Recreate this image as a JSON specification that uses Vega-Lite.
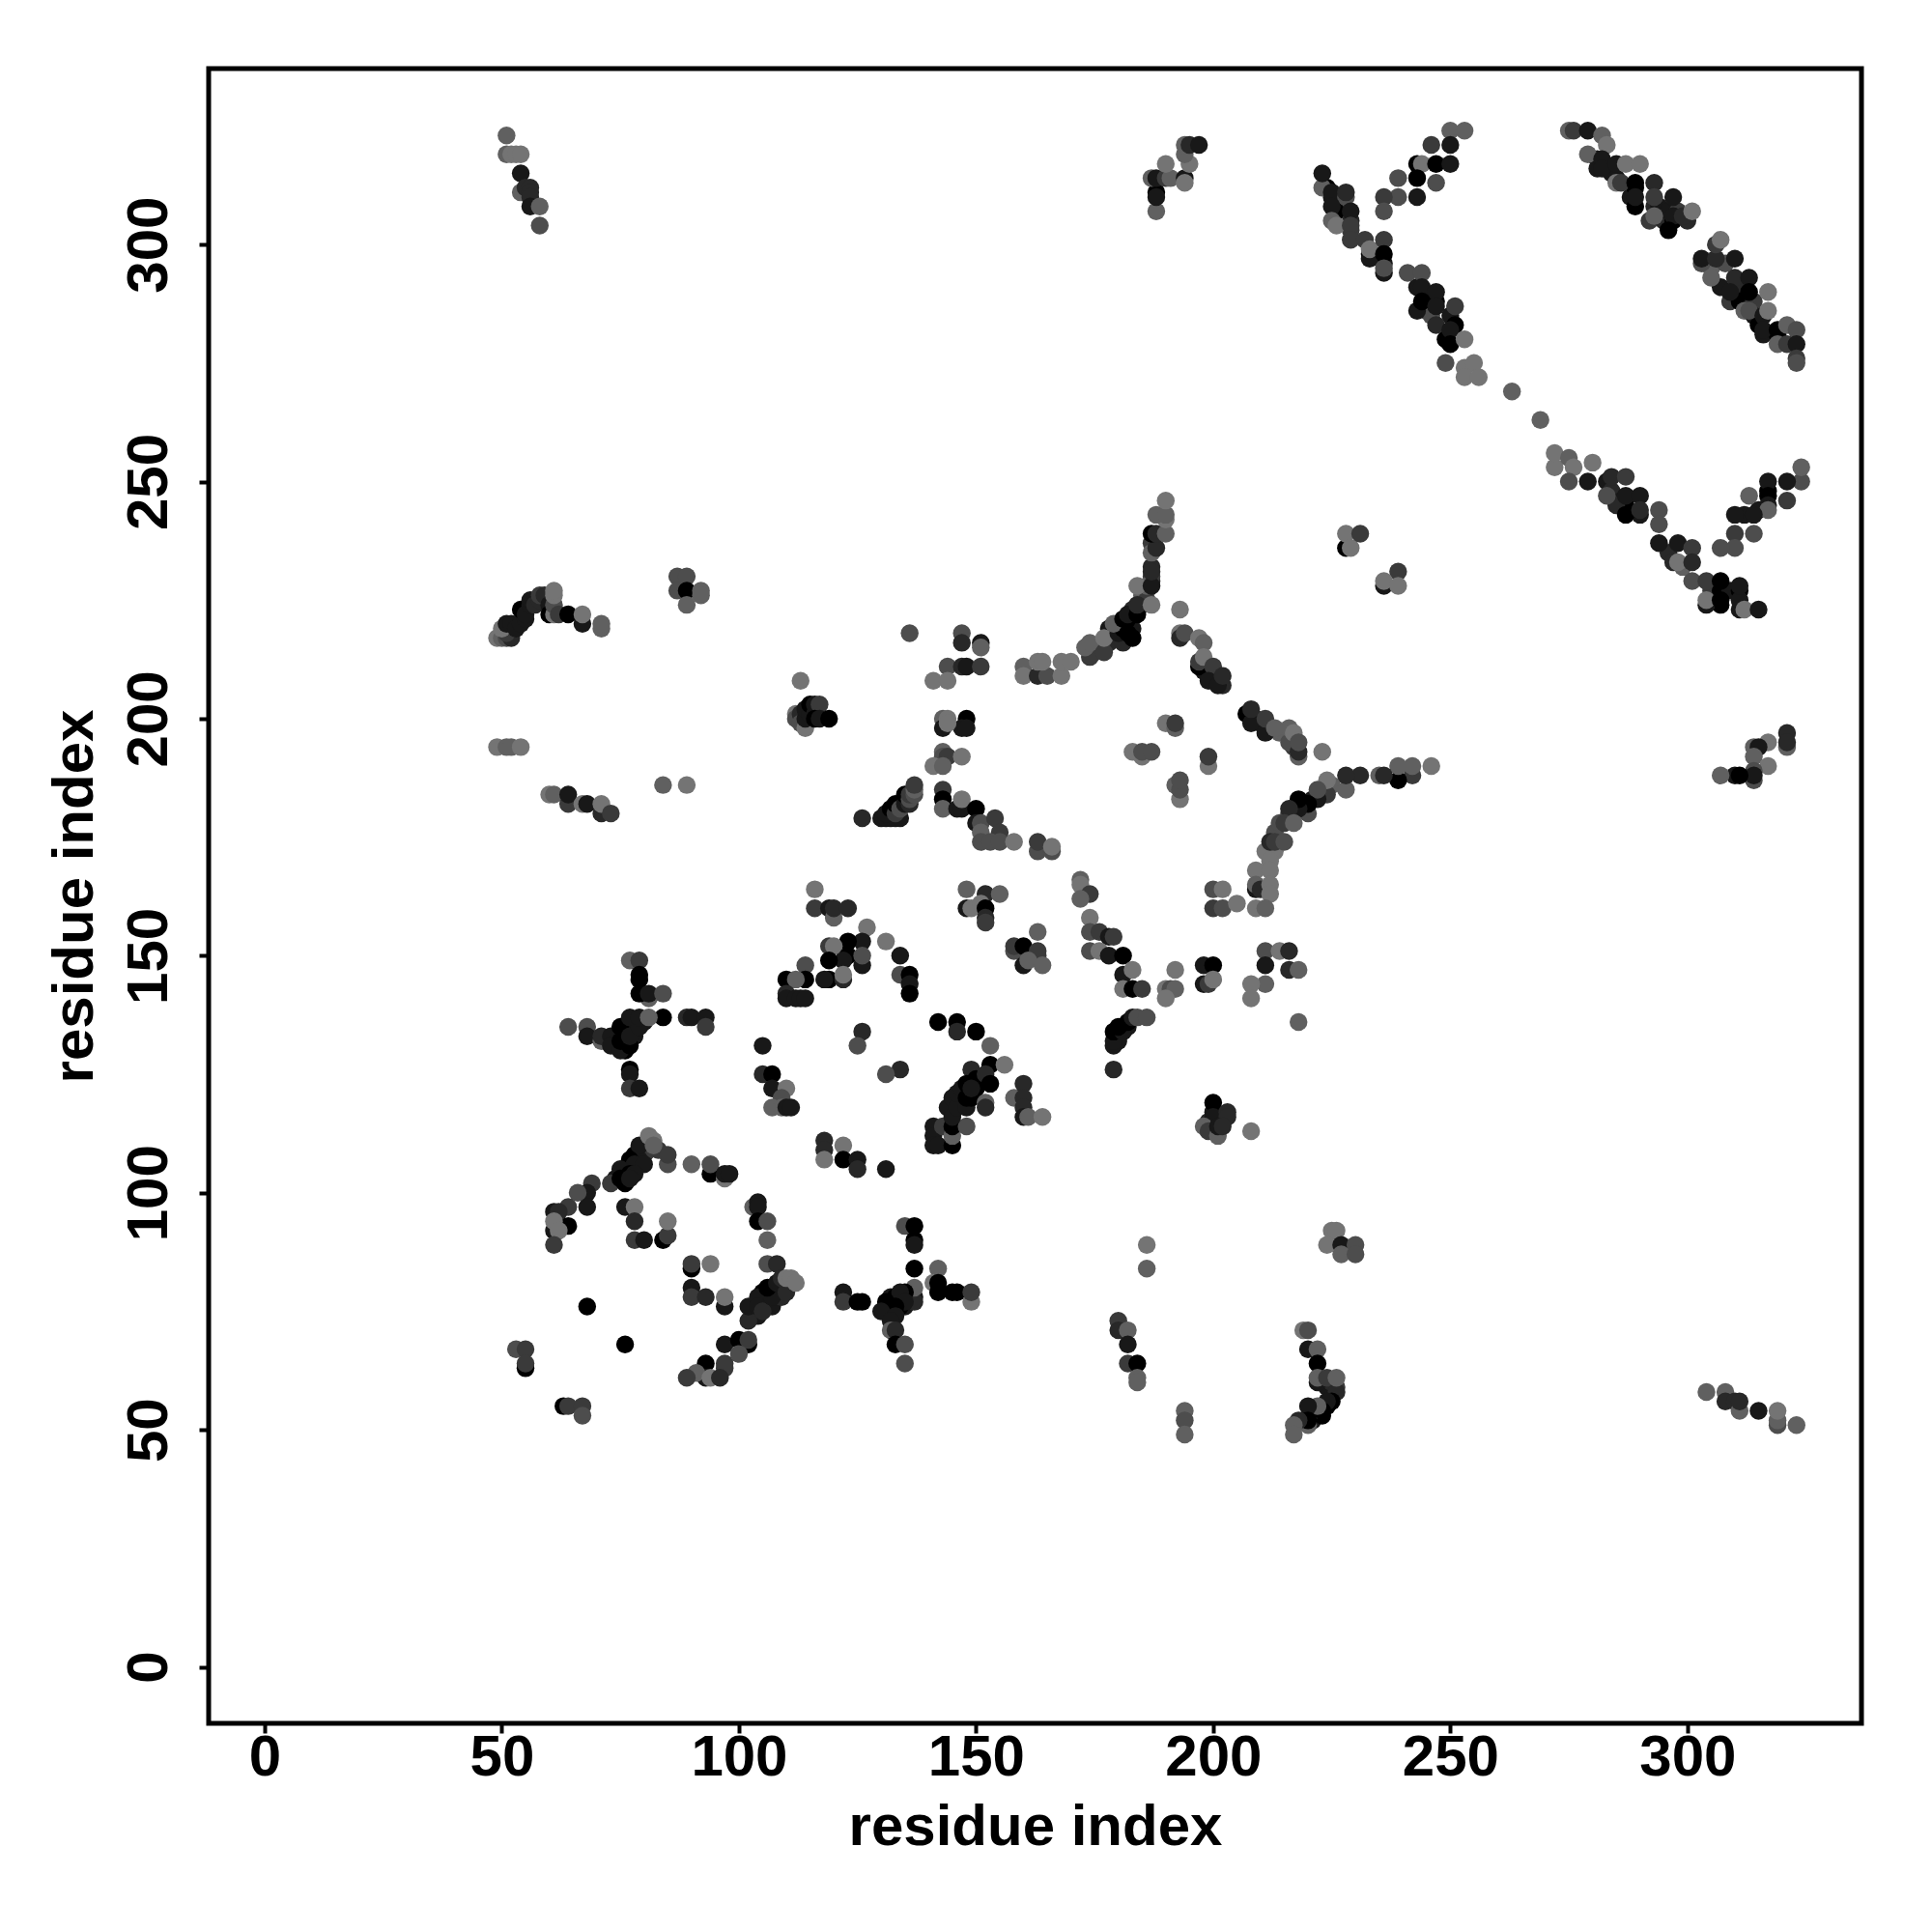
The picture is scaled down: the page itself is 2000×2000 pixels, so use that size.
{"$schema":"https://vega.github.io/schema/vega-lite/v6.json","autosize":"none","padding":{"left":216,"top":71,"right":73,"bottom":216},"width":1711,"height":1713,"background":"white","view":{"stroke":"black","strokeWidth":5,"fill":"white"},"data":{"values":[
{"i":281,"j":318,"p":1},{"i":281,"j":316,"p":1},{"i":283,"j":316,"p":1},{"i":284,"j":315,"p":1},{"i":285,"j":314,"p":1},{"i":285,"j":313,"p":6},{"i":288,"j":310,"p":1},{"i":289,"j":308,"p":0},{"i":289,"j":312,"p":0},{"i":293,"j":308,"p":2},{"i":294,"j":308,"p":1},{"i":292,"j":305,"p":3},{"i":295,"j":305,"p":2},{"i":297,"j":305,"p":0},{"i":296,"j":307,"p":1},{"i":298,"j":307,"p":3},{"i":300,"j":305,"p":2},
{"i":305,"j":295,"p":5},{"i":308,"j":296,"p":4},{"i":307,"j":291,"p":1},{"i":309,"j":288,"p":3},{"i":311,"j":291,"p":2},{"i":311,"j":288,"p":0},{"i":314,"j":288,"p":3},{"i":312,"j":286,"p":5},{"i":314,"j":285,"p":1},{"i":315,"j":283,"p":0},{"i":316,"j":281,"p":1},{"i":319,"j":281,"p":0},{"i":303,"j":296,"p":4},
{"i":224,"j":312,"p":0},{"i":225,"j":310,"p":1},{"i":226,"j":307,"p":0},{"i":229,"j":305,"p":2},{"i":229,"j":303,"p":3},{"i":233,"j":298,"p":0},{"i":236,"j":296,"p":1},{"i":243,"j":291,"p":1},{"i":245,"j":289,"p":1},{"i":247,"j":288,"p":0},{"i":245,"j":286,"p":2},{"i":246,"j":285,"p":4},{"i":250,"j":285,"p":1},{"i":249,"j":280,"p":0},
{"i":283,"j":250,"p":1},{"i":284,"j":248,"p":2},{"i":286,"j":246,"p":1},{"i":287,"j":245,"p":0},{"i":290,"j":243,"p":1},{"i":285,"j":245,"p":2},{"i":305,"j":227,"p":3},{"i":307,"j":227,"p":0},{"i":309,"j":227,"p":1},{"i":311,"j":227,"p":0},{"i":307,"j":224,"p":0},{"i":304,"j":224,"p":1},{"i":296,"j":235,"p":2},{"i":299,"j":232,"p":5},{"i":317,"j":248,"p":0},{"i":315,"j":244,"p":1},{"i":312,"j":243,"p":1},
{"i":178,"j":219,"p":1},{"i":179,"j":218,"p":0},{"i":180,"j":219,"p":0},{"i":181,"j":220,"p":0},{"i":182,"j":220,"p":0},{"i":183,"j":219,"p":1},{"i":183,"j":223,"p":2},{"i":185,"j":226,"p":5},{"i":186,"j":227,"p":5},{"i":185,"j":224,"p":2},{"i":186,"j":225,"p":3},{"i":187,"j":229,"p":2},{"i":187,"j":230,"p":3},{"i":187,"j":232,"p":2},{"i":187,"j":237,"p":3},{"i":186,"j":228,"p":5},{"i":175,"j":215,"p":3},{"i":176,"j":215,"p":3},{"i":178,"j":216,"p":2},{"i":175,"j":214,"p":4},
{"i":219,"j":181,"p":0},{"i":221,"j":183,"p":1},{"i":219,"j":182,"p":0},{"i":223,"j":185,"p":3},{"i":225,"j":186,"p":5},{"i":217,"j":181,"p":0},{"i":216,"j":180,"p":3},{"i":213,"j":176,"p":4},{"i":213,"j":172,"p":6},{"i":211,"j":172,"p":6},
{"i":198,"j":210,"p":1},{"i":200,"j":209,"p":0},{"i":201,"j":208,"p":1},{"i":202,"j":207,"p":2},{"i":200,"j":208,"p":1},{"i":209,"j":200,"p":1},{"i":210,"j":199,"p":1},{"i":212,"j":198,"p":2},{"i":214,"j":197,"p":5},{"i":215,"j":197,"p":5},{"i":217,"j":194,"p":3},
{"i":76,"j":103,"p":0},{"i":74,"j":103,"p":1},{"i":79,"j":108,"p":1},{"i":78,"j":108,"p":0},{"i":80,"j":108,"p":2},{"i":81,"j":109,"p":3},{"i":83,"j":109,"p":3},{"i":79,"j":107,"p":1},{"i":76,"j":105,"p":1},{"i":77,"j":105,"p":1},{"i":103,"j":75,"p":1},{"i":104,"j":74,"p":1},{"i":103,"j":76,"p":1},{"i":105,"j":77,"p":1},{"i":106,"j":77,"p":1},{"i":107,"j":76,"p":1},{"i":108,"j":79,"p":1},{"i":109,"j":78,"p":2},{"i":109,"j":80,"p":1},{"i":106,"j":78,"p":1},{"i":107,"j":80,"p":2},{"i":105,"j":79,"p":0},
{"i":76,"j":132,"p":0},{"i":76,"j":134,"p":0},{"i":78,"j":135,"p":1},{"i":78,"j":133,"p":1},{"i":80,"j":136,"p":1},{"i":76,"j":130,"p":0},{"i":131,"j":76,"p":0},{"i":131,"j":75,"p":1},{"i":132,"j":78,"p":1},{"i":133,"j":78,"p":0},{"i":134,"j":77,"p":1},{"i":135,"j":76,"p":1},{"i":136,"j":79,"p":1},{"i":136,"j":78,"p":0},{"i":137,"j":78,"p":1},{"i":137,"j":77,"p":2},{"i":133,"j":75,"p":1},{"i":134,"j":76,"p":0},
{"i":221,"j":52,"p":1},{"i":222,"j":53,"p":1},{"i":223,"j":53,"p":0},{"i":224,"j":55,"p":0},{"i":225,"j":57,"p":0},{"i":226,"j":59,"p":3},{"i":219,"j":52,"p":1},{"i":221,"j":54,"p":3},{"i":224,"j":59,"p":1},{"i":225,"j":60,"p":2},{"i":200,"j":114,"p":1},{"i":201,"j":115,"p":1},{"i":202,"j":115,"p":2},{"i":199,"j":115,"p":2},{"i":200,"j":117,"p":1},{"i":180,"j":133,"p":0},{"i":181,"j":135,"p":1},{"i":182,"j":135,"p":1},{"i":180,"j":132,"p":1},
{"i":51,"j":323,"p":5},{"i":51,"j":319,"p":5},{"i":52,"j":319,"p":6},{"i":53,"j":319,"p":6},{"i":54,"j":319,"p":6},{"i":54,"j":315,"p":1},{"i":54,"j":311,"p":5},{"i":55,"j":312,"p":2},{"i":56,"j":312,"p":2},{"i":56,"j":311,"p":2},{"i":56,"j":310,"p":2},{"i":56,"j":308,"p":1},{"i":58,"j":308,"p":5},{"i":58,"j":304,"p":4},
{"i":49,"j":217,"p":6},{"i":50,"j":217,"p":5},{"i":51,"j":217,"p":4},{"i":52,"j":217,"p":2},{"i":51,"j":218,"p":3},{"i":50,"j":219,"p":6},{"i":51,"j":220,"p":1},{"i":52,"j":220,"p":1},{"i":53,"j":219,"p":1},{"i":54,"j":220,"p":1},{"i":55,"j":221,"p":1},{"i":54,"j":223,"p":0},{"i":55,"j":222,"p":1},{"i":56,"j":224,"p":1},{"i":56,"j":225,"p":1},{"i":57,"j":224,"p":2},{"i":58,"j":225,"p":2},{"i":58,"j":226,"p":3},{"i":59,"j":226,"p":2},{"i":60,"j":224,"p":1},{"i":60,"j":222,"p":0},{"i":61,"j":222,"p":6},{"i":61,"j":224,"p":4},{"i":61,"j":226,"p":6},{"i":61,"j":227,"p":6},{"i":62,"j":222,"p":3},{"i":64,"j":222,"p":0},{"i":67,"j":220,"p":1},{"i":67,"j":222,"p":6},{"i":71,"j":219,"p":5},{"i":71,"j":220,"p":5},
{"i":87,"j":230,"p":4},{"i":89,"j":230,"p":4},{"i":87,"j":227,"p":4},{"i":89,"j":227,"p":0},{"i":92,"j":227,"p":5},{"i":92,"j":226,"p":5},{"i":89,"j":224,"p":5},
{"i":49,"j":194,"p":6},{"i":51,"j":194,"p":5},{"i":52,"j":194,"p":5},{"i":54,"j":194,"p":6},
{"i":60,"j":184,"p":6},{"i":61,"j":184,"p":5},{"i":64,"j":182,"p":3},{"i":64,"j":184,"p":1},{"i":67,"j":182,"p":6},{"i":68,"j":182,"p":1},{"i":71,"j":180,"p":2},{"i":71,"j":182,"p":6},{"i":73,"j":180,"p":3},
{"i":84,"j":186,"p":5},{"i":89,"j":186,"p":6},
{"i":113,"j":208,"p":6},{"i":112,"j":201,"p":6},{"i":112,"j":200,"p":4},{"i":113,"j":201,"p":2},{"i":113,"j":199,"p":4},{"i":114,"j":198,"p":6},{"i":114,"j":200,"p":1},{"i":114,"j":202,"p":1},{"i":115,"j":201,"p":1},{"i":115,"j":203,"p":0},{"i":116,"j":203,"p":1},{"i":116,"j":201,"p":1},{"i":117,"j":203,"p":3},{"i":116,"j":200,"p":0},{"i":117,"j":200,"p":1},{"i":119,"j":200,"p":0},
{"i":126,"j":179,"p":2},{"i":130,"j":179,"p":1},{"i":131,"j":179,"p":1},{"i":132,"j":179,"p":1},{"i":133,"j":179,"p":1},{"i":134,"j":179,"p":1},{"i":131,"j":180,"p":1},{"i":132,"j":181,"p":0},{"i":133,"j":180,"p":3},{"i":133,"j":182,"p":0},{"i":134,"j":181,"p":4},{"i":135,"j":182,"p":1},{"i":135,"j":184,"p":0},{"i":136,"j":182,"p":2},{"i":136,"j":183,"p":4},{"i":136,"j":184,"p":3},{"i":137,"j":184,"p":4},{"i":137,"j":185,"p":5},{"i":137,"j":186,"p":3},
{"i":136,"j":218,"p":4},{"i":147,"j":218,"p":4},{"i":147,"j":216,"p":2},{"i":151,"j":216,"p":1},{"i":151,"j":215,"p":5},{"i":144,"j":211,"p":4},{"i":147,"j":211,"p":2},{"i":148,"j":211,"p":1},{"i":151,"j":211,"p":3},{"i":141,"j":208,"p":6},{"i":144,"j":208,"p":6},
{"i":143,"j":200,"p":5},{"i":143,"j":198,"p":1},{"i":148,"j":200,"p":0},{"i":147,"j":198,"p":1},{"i":148,"j":198,"p":1},{"i":144,"j":200,"p":6},{"i":144,"j":199,"p":6},
{"i":143,"j":193,"p":5},{"i":143,"j":192,"p":4},{"i":144,"j":192,"p":3},{"i":147,"j":192,"p":6},{"i":141,"j":190,"p":6},{"i":143,"j":190,"p":5},
{"i":143,"j":185,"p":3},{"i":143,"j":183,"p":0},{"i":143,"j":181,"p":5},{"i":146,"j":181,"p":1},{"i":147,"j":181,"p":1},{"i":147,"j":183,"p":6},{"i":150,"j":181,"p":0},{"i":150,"j":178,"p":1},{"i":151,"j":178,"p":4},{"i":154,"j":179,"p":3},{"i":151,"j":176,"p":5},{"i":155,"j":176,"p":3},{"i":151,"j":174,"p":4},{"i":153,"j":174,"p":4},{"i":155,"j":174,"p":4},{"i":158,"j":174,"p":6},{"i":163,"j":172,"p":4},{"i":163,"j":174,"p":3},{"i":166,"j":172,"p":4},{"i":166,"j":173,"p":6},
{"i":160,"j":211,"p":5},{"i":160,"j":209,"p":6},{"i":163,"j":209,"p":2},{"i":165,"j":209,"p":4},{"i":163,"j":212,"p":6},{"i":164,"j":212,"p":6},{"i":168,"j":209,"p":6},{"i":168,"j":212,"p":6},{"i":170,"j":212,"p":6},{"i":174,"j":213,"p":3},{"i":173,"j":215,"p":5},{"i":174,"j":216,"p":5},{"i":177,"j":214,"p":3},{"i":177,"j":217,"p":6},{"i":181,"j":216,"p":2},{"i":180,"j":218,"p":1},{"i":183,"j":217,"p":0},{"i":181,"j":219,"p":0},{"i":179,"j":220,"p":5},{"i":181,"j":221,"p":0},{"i":182,"j":218,"p":0},{"i":182,"j":221,"p":0},{"i":182,"j":222,"p":1},{"i":184,"j":222,"p":0},{"i":184,"j":224,"p":2},{"i":187,"j":224,"p":6},{"i":184,"j":228,"p":6},{"i":187,"j":228,"p":1},{"i":187,"j":231,"p":2},{"i":187,"j":235,"p":5},{"i":188,"j":236,"p":2},{"i":187,"j":239,"p":0},{"i":188,"j":239,"p":2},{"i":190,"j":239,"p":5},{"i":190,"j":242,"p":6},{"i":188,"j":243,"p":5},{"i":190,"j":243,"p":5},{"i":190,"j":246,"p":6},
{"i":193,"j":223,"p":6},{"i":193,"j":218,"p":6},{"i":193,"j":217,"p":2},{"i":194,"j":218,"p":4},{"i":197,"j":217,"p":6},{"i":198,"j":216,"p":5},{"i":197,"j":211,"p":0},{"i":197,"j":212,"p":3},{"i":198,"j":213,"p":6},{"i":200,"j":211,"p":3},{"i":199,"j":208,"p":1},{"i":201,"j":207,"p":1},{"i":202,"j":209,"p":2},
{"i":207,"j":201,"p":0},{"i":208,"j":199,"p":1},{"i":208,"j":202,"p":2},{"i":211,"j":197,"p":1},{"i":211,"j":200,"p":3},{"i":213,"j":198,"p":5},{"i":216,"j":195,"p":4},{"i":216,"j":198,"p":5},{"i":217,"j":197,"p":6},{"i":218,"j":192,"p":5},{"i":218,"j":193,"p":2},{"i":218,"j":195,"p":4},{"i":223,"j":193,"p":6},
{"i":190,"j":199,"p":6},{"i":192,"j":198,"p":5},{"i":192,"j":199,"p":3},{"i":183,"j":193,"p":6},{"i":185,"j":192,"p":6},{"i":185,"j":193,"p":4},{"i":187,"j":193,"p":4},{"i":199,"j":190,"p":6},{"i":199,"j":192,"p":3},{"i":192,"j":186,"p":5},{"i":193,"j":183,"p":6},{"i":193,"j":185,"p":4},{"i":193,"j":187,"p":4},
{"i":246,"j":190,"p":6},{"i":242,"j":188,"p":3},{"i":242,"j":190,"p":5},{"i":239,"j":187,"p":0},{"i":239,"j":190,"p":5},{"i":235,"j":188,"p":5},{"i":236,"j":188,"p":2},{"i":231,"j":188,"p":2},{"i":228,"j":185,"p":5},{"i":228,"j":188,"p":2},{"i":224,"j":184,"p":3},{"i":224,"j":187,"p":6},{"i":222,"j":183,"p":1},{"i":222,"j":185,"p":4},{"i":220,"j":180,"p":4},{"i":220,"j":182,"p":0},{"i":218,"j":181,"p":1},{"i":218,"j":183,"p":0},{"i":216,"j":181,"p":2},{"i":214,"j":178,"p":4},{"i":215,"j":178,"p":3},{"i":217,"j":178,"p":5},{"i":212,"j":174,"p":2},{"i":213,"j":174,"p":3},{"i":215,"j":174,"p":4},{"i":212,"j":170,"p":6},{"i":209,"j":168,"p":6},{"i":212,"j":168,"p":6},{"i":209,"j":164,"p":1},{"i":209,"j":165,"p":5},{"i":210,"j":164,"p":2},{"i":212,"j":165,"p":6},{"i":212,"j":163,"p":6},
{"i":200,"j":164,"p":4},{"i":202,"j":164,"p":6},{"i":200,"j":160,"p":3},{"i":202,"j":160,"p":4},{"i":205,"j":161,"p":6},{"i":209,"j":160,"p":6},{"i":211,"j":160,"p":5},
{"i":148,"j":164,"p":5},{"i":152,"j":163,"p":2},{"i":155,"j":163,"p":5},{"i":148,"j":160,"p":1},{"i":149,"j":160,"p":6},{"i":151,"j":161,"p":6},{"i":152,"j":160,"p":0},{"i":152,"j":158,"p":2},{"i":152,"j":157,"p":3},
{"i":172,"j":166,"p":5},{"i":172,"j":165,"p":6},{"i":174,"j":163,"p":3},{"i":172,"j":162,"p":5},
{"i":174,"j":158,"p":6},{"i":174,"j":155,"p":4},{"i":176,"j":155,"p":3},{"i":178,"j":154,"p":1},{"i":179,"j":154,"p":3},{"i":174,"j":151,"p":4},{"i":176,"j":151,"p":6},{"i":178,"j":150,"p":1},{"i":181,"j":150,"p":0},{"i":181,"j":146,"p":1},{"i":183,"j":147,"p":6},{"i":181,"j":143,"p":6},{"i":183,"j":143,"p":0},{"i":185,"j":143,"p":3},
{"i":163,"j":155,"p":5},{"i":158,"j":151,"p":4},{"i":158,"j":152,"p":3},{"i":160,"j":152,"p":0},{"i":163,"j":150,"p":3},{"i":163,"j":151,"p":3},{"i":160,"j":148,"p":1},{"i":161,"j":149,"p":5},{"i":164,"j":148,"p":5},
{"i":192,"j":147,"p":6},{"i":190,"j":143,"p":6},{"i":191,"j":143,"p":4},{"i":192,"j":143,"p":5},{"i":190,"j":141,"p":6},
{"i":198,"j":144,"p":1},{"i":198,"j":148,"p":1},{"i":200,"j":148,"p":0},{"i":199,"j":144,"p":3},{"i":200,"j":145,"p":6},
{"i":211,"j":151,"p":4},{"i":211,"j":148,"p":1},{"i":211,"j":144,"p":5},{"i":208,"j":144,"p":6},{"i":208,"j":141,"p":6},{"i":214,"j":151,"p":6},{"i":216,"j":151,"p":2},{"i":216,"j":147,"p":2},{"i":218,"j":147,"p":5},{"i":218,"j":136,"p":5},
{"i":179,"j":131,"p":1},{"i":179,"j":132,"p":1},{"i":179,"j":134,"p":0},{"i":181,"j":134,"p":1},{"i":180,"j":135,"p":0},{"i":182,"j":136,"p":0},{"i":183,"j":137,"p":1},{"i":184,"j":137,"p":4},{"i":186,"j":137,"p":4},{"i":179,"j":126,"p":2},
{"i":142,"j":136,"p":0},{"i":146,"j":136,"p":0},{"i":146,"j":134,"p":2},{"i":150,"j":134,"p":0},{"i":153,"j":131,"p":5},{"i":153,"j":127,"p":0},{"i":149,"j":126,"p":2},{"i":156,"j":127,"p":6},
{"i":116,"j":164,"p":6},{"i":116,"j":160,"p":3},{"i":119,"j":160,"p":1},{"i":120,"j":158,"p":5},{"i":120,"j":160,"p":2},{"i":123,"j":160,"p":2},
{"i":127,"j":156,"p":6},{"i":131,"j":153,"p":6},{"i":126,"j":153,"p":1},{"i":123,"j":153,"p":0},{"i":119,"j":152,"p":3},{"i":120,"j":152,"p":6},{"i":123,"j":150,"p":0},{"i":122,"j":149,"p":1},{"i":119,"j":149,"p":0},{"i":126,"j":148,"p":1},{"i":126,"j":150,"p":4},{"i":119,"j":145,"p":0},{"i":118,"j":145,"p":1},{"i":122,"j":145,"p":2},{"i":122,"j":146,"p":6},
{"i":114,"j":148,"p":4},{"i":114,"j":145,"p":0},{"i":110,"j":145,"p":0},{"i":112,"j":145,"p":5},{"i":110,"j":142,"p":2},{"i":110,"j":141,"p":1},{"i":112,"j":141,"p":1},{"i":113,"j":141,"p":1},{"i":114,"j":141,"p":1},
{"i":134,"j":150,"p":1},{"i":134,"j":146,"p":4},{"i":136,"j":146,"p":0},{"i":136,"j":144,"p":1},{"i":136,"j":142,"p":0},
{"i":126,"j":134,"p":2},{"i":125,"j":131,"p":4},{"i":134,"j":126,"p":2},{"i":131,"j":125,"p":4},
{"i":105,"j":131,"p":1},{"i":105,"j":125,"p":2},{"i":107,"j":125,"p":0},{"i":107,"j":122,"p":1},{"i":110,"j":122,"p":6},{"i":109,"j":120,"p":4},{"i":107,"j":118,"p":5},{"i":109,"j":118,"p":5},{"i":110,"j":118,"p":1},{"i":111,"j":118,"p":1},
{"i":77,"j":149,"p":5},{"i":79,"j":149,"p":3},{"i":79,"j":146,"p":0},{"i":79,"j":145,"p":0},{"i":81,"j":141,"p":5},{"i":79,"j":142,"p":0},{"i":81,"j":142,"p":1},{"i":84,"j":142,"p":4},{"i":84,"j":137,"p":0},{"i":89,"j":137,"p":2},{"i":90,"j":137,"p":1},{"i":93,"j":137,"p":1},{"i":93,"j":135,"p":3},{"i":64,"j":135,"p":4},{"i":68,"j":135,"p":4},{"i":68,"j":133,"p":1},{"i":71,"j":132,"p":5},{"i":71,"j":133,"p":2},{"i":73,"j":133,"p":1},{"i":73,"j":131,"p":1},{"i":75,"j":130,"p":1},{"i":75,"j":132,"p":0},{"i":75,"j":135,"p":0},{"i":77,"j":131,"p":0},{"i":77,"j":133,"p":1},{"i":77,"j":137,"p":1},{"i":79,"j":135,"p":1},{"i":79,"j":137,"p":1},{"i":81,"j":137,"p":5},{"i":77,"j":126,"p":0},{"i":77,"j":125,"p":1},{"i":77,"j":122,"p":3},{"i":79,"j":122,"p":1},
{"i":79,"j":110,"p":1},{"i":77,"j":107,"p":0},{"i":78,"j":106,"p":1},{"i":80,"j":106,"p":1},{"i":75,"j":105,"p":1},{"i":77,"j":104,"p":0},{"i":78,"j":104,"p":1},{"i":73,"j":102,"p":3},{"i":75,"j":103,"p":0},{"i":76,"j":102,"p":0},{"i":77,"j":103,"p":1},{"i":85,"j":106,"p":4},{"i":85,"j":108,"p":3},{"i":81,"j":112,"p":6},{"i":82,"j":111,"p":6},{"i":82,"j":110,"p":5},{"i":90,"j":106,"p":5},{"i":94,"j":104,"p":0},{"i":94,"j":106,"p":4},{"i":97,"j":103,"p":6},{"i":97,"j":104,"p":1},{"i":98,"j":104,"p":1},
{"i":69,"j":102,"p":3},{"i":68,"j":100,"p":1},{"i":66,"j":100,"p":4},{"i":68,"j":97,"p":1},{"i":64,"j":97,"p":3},{"i":61,"j":96,"p":1},{"i":62,"j":96,"p":2},{"i":64,"j":93,"p":0},{"i":61,"j":92,"p":1},{"i":61,"j":94,"p":6},{"i":62,"j":92,"p":6},{"i":61,"j":89,"p":3},
{"i":76,"j":97,"p":1},{"i":78,"j":97,"p":6},{"i":78,"j":94,"p":2},{"i":78,"j":90,"p":3},{"i":80,"j":90,"p":1},{"i":84,"j":90,"p":0},{"i":85,"j":91,"p":3},{"i":85,"j":94,"p":6},
{"i":90,"j":84,"p":0},{"i":90,"j":85,"p":3},{"i":94,"j":85,"p":6},{"i":90,"j":80,"p":1},{"i":90,"j":78,"p":3},{"i":93,"j":78,"p":2},{"i":97,"j":76,"p":1},{"i":97,"j":78,"p":6},
{"i":103,"j":97,"p":5},{"i":104,"j":98,"p":1},{"i":104,"j":97,"p":1},{"i":104,"j":94,"p":0},{"i":106,"j":94,"p":4},{"i":106,"j":90,"p":5},{"i":106,"j":85,"p":4},{"i":108,"j":85,"p":2},
{"i":102,"j":73,"p":2},{"i":102,"j":76,"p":1},{"i":104,"j":78,"p":1},{"i":104,"j":76,"p":1},{"i":105,"j":75,"p":2},{"i":107,"j":78,"p":1},{"i":106,"j":80,"p":0},{"i":108,"j":81,"p":1},{"i":109,"j":82,"p":2},{"i":110,"j":79,"p":2},{"i":110,"j":82,"p":6},{"i":111,"j":82,"p":6},{"i":112,"j":81,"p":6},
{"i":97,"j":68,"p":1},{"i":100,"j":69,"p":0},{"i":102,"j":68,"p":0},{"i":102,"j":69,"p":3},{"i":100,"j":66,"p":4},{"i":93,"j":64,"p":0},{"i":97,"j":63,"p":3},{"i":97,"j":64,"p":3},{"i":93,"j":61,"p":1},{"i":91,"j":62,"p":5},{"i":89,"j":61,"p":3},{"i":94,"j":61,"p":6},{"i":96,"j":61,"p":2},
{"i":53,"j":67,"p":4},{"i":55,"j":67,"p":3},{"i":55,"j":63,"p":0},{"i":55,"j":64,"p":3},{"i":63,"j":55,"p":0},{"i":64,"j":55,"p":3},{"i":67,"j":55,"p":3},{"i":67,"j":53,"p":4},{"i":68,"j":76,"p":0},{"i":76,"j":68,"p":0},
{"i":122,"j":79,"p":1},{"i":122,"j":77,"p":3},{"i":125,"j":77,"p":0},{"i":126,"j":77,"p":0},{"i":135,"j":93,"p":4},{"i":137,"j":93,"p":0},{"i":137,"j":90,"p":0},{"i":137,"j":89,"p":1},{"i":137,"j":84,"p":0},{"i":142,"j":84,"p":5},{"i":141,"j":81,"p":6},{"i":137,"j":80,"p":5},{"i":142,"j":81,"p":0},{"i":142,"j":79,"p":0},{"i":145,"j":79,"p":0},{"i":146,"j":79,"p":0},{"i":149,"j":77,"p":6},{"i":149,"j":79,"p":3},{"i":135,"j":79,"p":0},{"i":134,"j":79,"p":1},{"i":135,"j":77,"p":1},{"i":133,"j":76,"p":0},{"i":131,"j":77,"p":0},{"i":130,"j":75,"p":1},{"i":133,"j":74,"p":1},{"i":132,"j":73,"p":1},{"i":132,"j":71,"p":5},{"i":133,"j":71,"p":2},{"i":133,"j":68,"p":0},{"i":135,"j":68,"p":4},{"i":135,"j":64,"p":4},
{"i":118,"j":111,"p":2},{"i":118,"j":109,"p":2},{"i":118,"j":107,"p":6},{"i":122,"j":110,"p":6},{"i":122,"j":107,"p":0},{"i":125,"j":107,"p":1},{"i":125,"j":105,"p":2},{"i":131,"j":105,"p":1},
{"i":141,"j":114,"p":1},{"i":141,"j":112,"p":1},{"i":141,"j":110,"p":1},{"i":142,"j":110,"p":1},{"i":143,"j":114,"p":3},{"i":145,"j":110,"p":0},{"i":145,"j":112,"p":5},{"i":145,"j":114,"p":0},{"i":148,"j":114,"p":4},
{"i":144,"j":118,"p":1},{"i":145,"j":116,"p":1},{"i":145,"j":120,"p":1},{"i":146,"j":118,"p":1},{"i":146,"j":121,"p":1},{"i":147,"j":122,"p":1},{"i":148,"j":118,"p":1},{"i":148,"j":120,"p":0},{"i":148,"j":123,"p":0},{"i":150,"j":122,"p":0},{"i":150,"j":124,"p":0},{"i":152,"j":125,"p":2},{"i":149,"j":120,"p":0},{"i":149,"j":122,"p":1},{"i":153,"j":123,"p":0},{"i":152,"j":119,"p":5},{"i":152,"j":118,"p":2},{"i":158,"j":120,"p":5},{"i":160,"j":123,"p":2},{"i":160,"j":120,"p":2},{"i":160,"j":118,"p":2},{"i":160,"j":116,"p":1},{"i":161,"j":116,"p":5},{"i":164,"j":116,"p":6},
{"i":200,"j":119,"p":0},{"i":200,"j":116,"p":1},{"i":203,"j":117,"p":2},{"i":203,"j":116,"p":2},{"i":198,"j":114,"p":5},{"i":199,"j":113,"p":3},{"i":201,"j":112,"p":5},{"i":201,"j":114,"p":1},{"i":202,"j":114,"p":2},{"i":208,"j":113,"p":6},
{"i":186,"j":89,"p":6},{"i":186,"j":84,"p":5},{"i":225,"j":92,"p":6},{"i":226,"j":92,"p":6},{"i":224,"j":89,"p":6},{"i":227,"j":89,"p":1},{"i":230,"j":89,"p":4},{"i":227,"j":87,"p":5},{"i":230,"j":87,"p":4},
{"i":180,"j":73,"p":3},{"i":180,"j":71,"p":2},{"i":182,"j":71,"p":5},{"i":182,"j":68,"p":1},{"i":182,"j":64,"p":3},{"i":184,"j":64,"p":0},{"i":184,"j":61,"p":5},{"i":184,"j":60,"p":5},
{"i":194,"j":54,"p":5},{"i":194,"j":52,"p":4},{"i":194,"j":49,"p":5},
{"i":219,"j":71,"p":6},{"i":220,"j":71,"p":4},{"i":220,"j":67,"p":1},{"i":222,"j":67,"p":5},{"i":222,"j":64,"p":0},{"i":222,"j":60,"p":1},{"i":222,"j":61,"p":5},{"i":224,"j":61,"p":3},{"i":226,"j":58,"p":2},{"i":225,"j":56,"p":0},{"i":224,"j":56,"p":1},{"i":223,"j":54,"p":0},{"i":222,"j":55,"p":5},{"i":220,"j":55,"p":1},{"i":220,"j":51,"p":5},{"i":220,"j":52,"p":0},{"i":218,"j":52,"p":2},{"i":217,"j":51,"p":5},{"i":217,"j":49,"p":5},{"i":226,"j":61,"p":5},
{"i":188,"j":307,"p":5},{"i":188,"j":311,"p":0},{"i":188,"j":310,"p":1},{"i":187,"j":314,"p":5},{"i":188,"j":314,"p":1},{"i":190,"j":314,"p":3},{"i":191,"j":314,"p":5},{"i":190,"j":317,"p":6},{"i":194,"j":314,"p":1},{"i":194,"j":313,"p":6},{"i":195,"j":317,"p":6},{"i":194,"j":319,"p":5},{"i":194,"j":321,"p":5},{"i":195,"j":321,"p":2},{"i":197,"j":321,"p":1},
{"i":223,"j":312,"p":5},{"i":223,"j":315,"p":1},{"i":225,"j":311,"p":1},{"i":228,"j":310,"p":4},{"i":228,"j":311,"p":2},{"i":225,"j":308,"p":1},{"i":229,"j":307,"p":1},{"i":225,"j":305,"p":5},{"i":226,"j":304,"p":6},{"i":229,"j":304,"p":3},{"i":229,"j":301,"p":3},{"i":232,"j":301,"p":3},{"i":233,"j":297,"p":1},{"i":233,"j":299,"p":6},{"i":236,"j":301,"p":3},{"i":236,"j":298,"p":0},{"i":236,"j":294,"p":1},{"i":236,"j":295,"p":4},{"i":241,"j":294,"p":4},{"i":244,"j":294,"p":4},{"i":244,"j":291,"p":1},{"i":247,"j":290,"p":1},{"i":243,"j":286,"p":1},{"i":244,"j":288,"p":0},{"i":247,"j":287,"p":1},{"i":251,"j":287,"p":3},{"i":247,"j":283,"p":2},{"i":251,"j":283,"p":0},{"i":250,"j":282,"p":1},{"i":250,"j":279,"p":0},{"i":253,"j":280,"p":6},{"i":249,"j":275,"p":4},{"i":253,"j":274,"p":6},{"i":255,"j":275,"p":6},{"i":253,"j":272,"p":6},{"i":256,"j":272,"p":6},{"i":263,"j":269,"p":5},{"i":269,"j":263,"p":5},
{"i":250,"j":324,"p":5},{"i":253,"j":324,"p":5},{"i":246,"j":321,"p":3},{"i":250,"j":321,"p":1},{"i":243,"j":317,"p":0},{"i":244,"j":317,"p":6},{"i":247,"j":317,"p":0},{"i":250,"j":317,"p":1},{"i":243,"j":314,"p":0},{"i":247,"j":313,"p":4},{"i":239,"j":314,"p":4},{"i":243,"j":310,"p":1},{"i":239,"j":310,"p":4},{"i":236,"j":310,"p":3},{"i":236,"j":307,"p":4},
{"i":275,"j":324,"p":5},{"i":276,"j":324,"p":3},{"i":279,"j":324,"p":1},{"i":282,"j":323,"p":5},{"i":283,"j":321,"p":6},{"i":279,"j":319,"p":5},{"i":282,"j":318,"p":1},{"i":282,"j":316,"p":1},{"i":285,"j":317,"p":1},{"i":287,"j":317,"p":6},{"i":290,"j":317,"p":6},{"i":286,"j":313,"p":3},{"i":289,"j":313,"p":0},{"i":289,"j":310,"p":1},{"i":293,"j":313,"p":2},{"i":293,"j":310,"p":3},{"i":297,"j":310,"p":1},{"i":293,"j":306,"p":5},{"i":297,"j":306,"p":1},{"i":296,"j":303,"p":0},{"i":299,"j":306,"p":2},{"i":301,"j":307,"p":6},
{"i":303,"j":297,"p":1},{"i":306,"j":297,"p":2},{"i":306,"j":300,"p":3},{"i":307,"j":301,"p":6},{"i":310,"j":297,"p":1},{"i":305,"j":293,"p":5},{"i":310,"j":293,"p":2},{"i":313,"j":293,"p":1},{"i":309,"j":290,"p":1},{"i":313,"j":290,"p":0},{"i":317,"j":290,"p":6},{"i":313,"j":286,"p":4},{"i":316,"j":285,"p":1},{"i":317,"j":286,"p":6},{"i":316,"j":282,"p":1},{"i":319,"j":282,"p":0},{"i":321,"j":283,"p":5},{"i":323,"j":282,"p":4},{"i":319,"j":279,"p":5},{"i":321,"j":279,"p":3},{"i":323,"j":279,"p":1},{"i":323,"j":276,"p":3},{"i":323,"j":275,"p":4},
{"i":272,"j":253,"p":6},{"i":272,"j":256,"p":6},{"i":275,"j":255,"p":5},{"i":276,"j":253,"p":6},{"i":280,"j":254,"p":6},{"i":275,"j":250,"p":4},{"i":279,"j":250,"p":1},{"i":284,"j":251,"p":2},{"i":287,"j":251,"p":3},{"i":283,"j":247,"p":4},{"i":287,"j":247,"p":1},{"i":290,"j":247,"p":1},{"i":287,"j":243,"p":0},{"i":290,"j":244,"p":2},{"i":294,"j":244,"p":4},{"i":294,"j":241,"p":4},{"i":294,"j":237,"p":1},{"i":298,"j":237,"p":1},{"i":301,"j":236,"p":3},{"i":297,"j":233,"p":2},{"i":298,"j":233,"p":6},{"i":301,"j":233,"p":2},{"i":301,"j":229,"p":4},{"i":304,"j":229,"p":3},{"i":304,"j":225,"p":6},{"i":307,"j":225,"p":0},{"i":307,"j":229,"p":0},{"i":311,"j":223,"p":1},{"i":311,"j":225,"p":1},{"i":311,"j":228,"p":1},{"i":312,"j":223,"p":6},{"i":315,"j":223,"p":1},
{"i":324,"j":250,"p":4},{"i":324,"j":253,"p":5},{"i":321,"j":250,"p":1},{"i":321,"j":246,"p":3},{"i":317,"j":250,"p":1},{"i":317,"j":247,"p":0},{"i":317,"j":245,"p":1},{"i":317,"j":244,"p":5},{"i":313,"j":247,"p":5},{"i":314,"j":243,"p":1},{"i":310,"j":243,"p":1},{"i":314,"j":239,"p":4},{"i":310,"j":239,"p":3},{"i":310,"j":236,"p":4},{"i":307,"j":236,"p":4},
{"i":228,"j":236,"p":0},{"i":228,"j":239,"p":6},{"i":229,"j":236,"p":6},{"i":231,"j":239,"p":3},{"i":239,"j":231,"p":3},{"i":236,"j":228,"p":1},{"i":236,"j":229,"p":6},{"i":239,"j":228,"p":6},
{"i":321,"j":197,"p":2},{"i":321,"j":194,"p":5},{"i":321,"j":195,"p":2},{"i":317,"j":195,"p":6},{"i":314,"j":194,"p":5},{"i":315,"j":194,"p":1},{"i":314,"j":192,"p":5},{"i":317,"j":190,"p":6},{"i":314,"j":187,"p":4},{"i":314,"j":189,"p":4},{"i":314,"j":188,"p":1},{"i":310,"j":188,"p":1},{"i":311,"j":188,"p":0},{"i":307,"j":188,"p":5},
{"i":304,"j":58,"p":5},{"i":308,"j":58,"p":5},{"i":308,"j":56,"p":2},{"i":310,"j":56,"p":2},{"i":311,"j":54,"p":5},{"i":311,"j":56,"p":2},{"i":315,"j":54,"p":1},{"i":319,"j":51,"p":4},{"i":319,"j":52,"p":5},{"i":319,"j":54,"p":6},{"i":323,"j":51,"p":5}
]},"mark":{"type":"point","shape":"circle","filled":true,"opacity":1,"size":340},"encoding":{"x":{"field":"i","type":"quantitative","scale":{"domain":[-11.81,336.7],"nice":false,"zero":false},"axis":{"values":[0,50,100,150,200,250,300],"title":"residue index","grid":false,"domain":false,"tickColor":"black","tickWidth":4,"tickSize":10,"labelFont":"Liberation Sans","labelFontWeight":"bold","labelFontSize":60,"labelColor":"black","labelPadding":-4,"titleFont":"Liberation Sans","titleFontWeight":"bold","titleFontSize":60,"titleColor":"black","titlePadding":13}},"y":{"field":"j","type":"quantitative","scale":{"domain":[-11.9,337.1],"nice":false,"zero":false},"axis":{"values":[0,50,100,150,200,250,300],"title":"residue index","grid":false,"domain":false,"tickColor":"black","tickWidth":4,"tickSize":10,"labelFont":"Liberation Sans","labelFontWeight":"bold","labelFontSize":60,"labelColor":"black","labelAngle":-90,"labelAlign":"center","labelBaseline":"bottom","labelPadding":21,"titleFont":"Liberation Sans","titleFontWeight":"bold","titleFontSize":60,"titleColor":"black","titlePadding":16}},"color":{"field":"p","type":"quantitative","scale":{"domain":[0,6],"range":["#000000","#747474"]},"legend":null}}}
